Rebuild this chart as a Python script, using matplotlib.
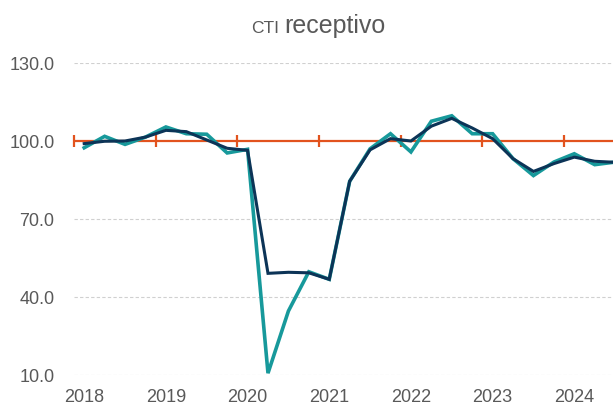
import numpy as np
import matplotlib
matplotlib.use("Agg")
import matplotlib.pyplot as plt

plt.rcParams['font.family'] = ['Liberation Sans', 'DejaVu Sans']

# quarters 2018Q1 .. 2024Q3
years = [2018, 2019, 2020, 2021, 2022, 2023, 2024]
quarters = [f"{y}Q{q}" for y in years for q in range(1, 5)][:27]

cti_trimestral = [97.4, 101.8, 98.7, 101.5, 105.4, 102.8, 102.6, 95.4, 96.8,
                  10.7, 34.6, 49.7, 46.8, 84.5, 97.0, 102.8, 95.8, 107.6,
                  109.7, 102.8, 102.8, 93.2, 86.7, 91.9, 95.1, 90.9, 91.9]
cti_tendencia = [99.0, 99.9, 100.0, 101.5, 104.1, 103.6, 100.4, 97.2, 96.4,
                 49.1, 49.5, 49.3, 46.8, 84.5, 96.6, 100.9, 100.0, 105.7,
                 108.7, 105.0, 100.9, 93.2, 88.3, 91.3, 93.8, 92.2, 91.8]
base = 100.0
y_ticks = [10.0, 40.0, 70.0, 100.0, 130.0]

TEAL = "#17999B"
NAVY = "#0C3457"
ORANGE = "#E2531E"
GRAY = "#595959"

x = np.arange(len(quarters))
q1_idx = [i for i, q in enumerate(quarters) if q.endswith("Q1")]

fig = plt.figure(figsize=(6.13, 4.05), dpi=100)
ax = fig.add_axes([74 / 613, 30 / 405, 539 / 613, 312 / 405])

ax.set_ylim(10, 130)
ax.set_xlim(-0.5, -0.5 + 539 / 20.42)

for yt in y_ticks:
    if yt != base:
        ax.axhline(yt, color="#D0D0D0", lw=0.8, ls=(0, (3, 2)), zorder=0)

# base line with year separators
ax.axhline(base, color=ORANGE, lw=1.6, zorder=1)
sep = [i - 0.5 for i in q1_idx] + [len(quarters) - 0.5 + 1]
ax.plot(sep, [base] * len(sep), ls="none", marker="|", ms=9, mew=1.6,
        color=ORANGE, zorder=1, clip_on=False)

ax.plot(x, cti_trimestral, color=TEAL, lw=2.6, zorder=2, clip_on=False,
        solid_joinstyle="miter")
ax.plot(x, cti_tendencia, color=NAVY, lw=2.2, zorder=3, clip_on=False,
        solid_joinstyle="miter")

ax.set_yticks(y_ticks)
ax.set_yticklabels([f"{v:.1f}" for v in y_ticks])
ax.set_xticks(q1_idx)
ax.set_xticklabels([q[:4] for q in quarters if q.endswith("Q1")])
ax.tick_params(axis="both", length=0, labelsize=13, labelcolor=GRAY)
ax.tick_params(axis="y", pad=14)
ax.tick_params(axis="x", pad=10)
for s in ax.spines.values():
    s.set_visible(False)

fig.text(284 / 613, 1 - 33 / 405, "receptivo", ha="left", va="baseline",
         fontsize=18, color=GRAY)
fig.text(279 / 613, 1 - 33 / 405, "CTI", ha="right", va="baseline",
         fontsize=12.5, color=GRAY)

fig.savefig("out.png", dpi=100)
